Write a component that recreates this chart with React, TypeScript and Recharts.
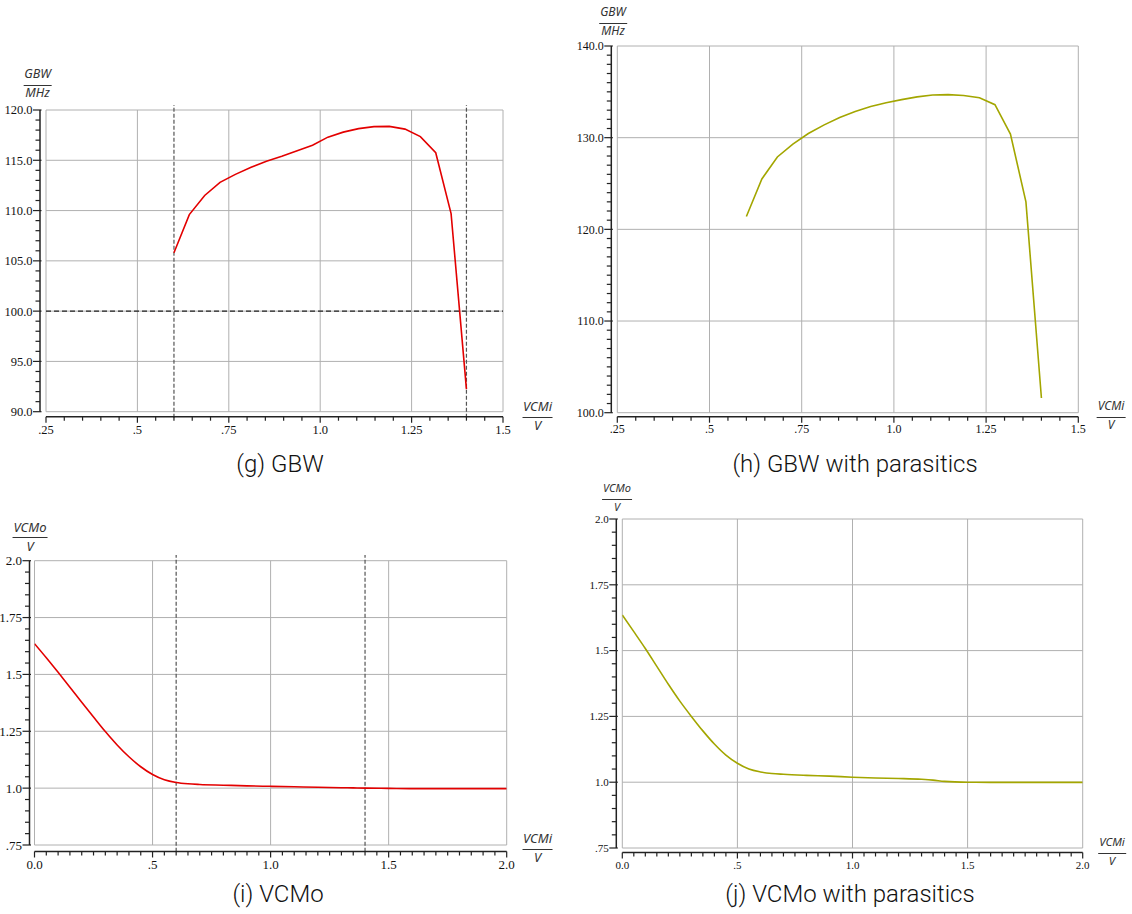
import React from 'react';
import { LineChart, Line, XAxis, YAxis, CartesianGrid, ReferenceLine } from 'recharts';

// ---------- data ----------
const gbwVcmi = [0.6, 0.642, 0.684, 0.726, 0.768, 0.811, 0.853, 0.895, 0.937, 0.979, 1.021, 1.063, 1.105, 1.147, 1.189, 1.232, 1.274, 1.316, 1.358, 1.4];
const gbwNominal = [105.8, 109.6, 111.5, 112.8, 113.6, 114.3, 114.9, 115.4, 115.95, 116.5, 117.3, 117.8, 118.15, 118.35, 118.37, 118.1, 117.35, 115.75, 109.7, 92.25];
const gbwParasitic = [121.4, 125.5, 127.9, 129.3, 130.45, 131.4, 132.2, 132.85, 133.4, 133.8, 134.15, 134.45, 134.65, 134.7, 134.6, 134.35, 133.6, 130.4, 123.0, 101.6];

const vcmoVcmi = [0, 0.05, 0.1, 0.15, 0.2, 0.25, 0.3, 0.35, 0.4, 0.45, 0.5, 0.55, 0.6, 0.65, 0.7, 0.8, 0.9, 1.0, 1.1, 1.2, 1.3, 1.35, 1.4, 1.5, 1.6, 1.8, 2.0];
const vcmoNominal = [1.635, 1.573, 1.509, 1.444, 1.378, 1.313, 1.249, 1.19, 1.138, 1.094, 1.06, 1.037, 1.025, 1.019, 1.016, 1.013, 1.01, 1.008, 1.006, 1.004, 1.002, 1.001, 1.0, 0.999, 0.998, 0.998, 0.998];
const vcmoParasitic = [1.635, 1.572, 1.508, 1.44, 1.372, 1.308, 1.25, 1.195, 1.145, 1.103, 1.072, 1.05, 1.039, 1.033, 1.03, 1.026, 1.023, 1.019, 1.016, 1.014, 1.011, 1.008, 1.003, 1.0, 0.9995, 0.9995, 0.9995];

// ---------- ticks ----------
const gbwXTickValues = [0.25, 0.5, 0.75, 1.0, 1.25, 1.5];
const gbwXTickLabels = ['.25', '.5', '.75', '1.0', '1.25', '1.5'];
const gbwYTickValuesG = [90, 95, 100, 105, 110, 115, 120];
const gbwYTickLabelsG = ['90.0', '95.0', '100.0', '105.0', '110.0', '115.0', '120.0'];
const gbwYTickValuesH = [100, 110, 120, 130, 140];
const gbwYTickLabelsH = ['100.0', '110.0', '120.0', '130.0', '140.0'];
const vcmoXTickValues = [0, 0.5, 1.0, 1.5, 2.0];
const vcmoXTickLabels = ['0.0', '.5', '1.0', '1.5', '2.0'];
const vcmoYTickValues = [0.75, 1.0, 1.25, 1.5, 1.75, 2.0];
const vcmoYTickLabels = ['.75', '1.0', '1.25', '1.5', '1.75', '2.0'];

const limitMarkers = [0.6, 1.4];
const gbwSpec = 100;
const captions = ['(g) GBW', '(h) GBW with parasitics', '(i) VCMo', '(j) VCMo with parasitics'];

const RED = '#e30000';
const OLIVE = '#a3a600';
const TICK_FONT = '"Liberation Serif", "DejaVu Serif", serif';
const UNIT_FONT = '"Noto Sans", "DejaVu Sans", sans-serif';

const range = (a: number, b: number, step: number) => {
  const n = Math.round((b - a) / step);
  return Array.from({ length: n + 1 }, (_, i) => +(a + i * step).toFixed(5));
};

const findIdx = (arr: number[], v: number) => arr.findIndex((m) => Math.abs(m - v) < 1e-6);

const XTick = (p: any) => {
  const { x, y, payload, majors, labels, off, fs } = p;
  const idx = findIdx(majors, payload.value);
  const major = idx >= 0;
  const ay = y + off;
  return (
    <g>
      <line x1={x} x2={x} y1={ay} y2={ay + (major ? 6 : 4)} stroke="#222" strokeWidth={1.2} />
      {major && (
        <text x={x} y={ay + 12.5} dy="0.35em" textAnchor="middle" fontFamily={TICK_FONT} fontSize={fs} fill="#111">
          {labels[idx]}
        </text>
      )}
    </g>
  );
};

const YTick = (p: any) => {
  const { x, y, payload, majors, labels, off, fs } = p;
  const idx = findIdx(majors, payload.value);
  const major = idx >= 0;
  const ax = x - off;
  return (
    <g>
      <line x1={ax - (major ? 7 : 4.5)} x2={ax + (major ? 1.5 : 0)} y1={y} y2={y} stroke="#222" strokeWidth={1.2} />
      {major && (
        <text x={ax - 7.5} y={y} dy="0.35em" textAnchor="end" fontFamily={TICK_FONT} fontSize={fs} fill="#111">
          {labels[idx]}
        </text>
      )}
    </g>
  );
};

type PanelProps = {
  left: number; top: number; width: number; height: number;
  margin: { top: number; right: number; bottom: number; left: number };
  yAxisWidth: number; xAxisHeight: number;
  xs: number[]; ys: number[]; color: string; curve: 'linear' | 'monotone';
  xDomain: [number, number]; yDomain: [number, number];
  xMajor: number[]; xLabels: string[]; xStep: number;
  yMajor: number[]; yLabels: string[]; yStep: number;
  xOff: number; yOff: number; fs: number;
  extras?: React.ReactNode;
};

const Panel = (pp: PanelProps) => {
  const rows = pp.xs.map((x, i) => ({ x, y: pp.ys[i] }));
  const xTicks = range(pp.xDomain[0], pp.xDomain[1], pp.xStep);
  const yTicks = range(pp.yDomain[0], pp.yDomain[1], pp.yStep);
  return (
    <div style={{ position: 'absolute', left: pp.left, top: pp.top }}>
      <LineChart width={pp.width} height={pp.height} data={rows} margin={pp.margin}>
        <CartesianGrid
          stroke="#b0b0b0"
          strokeWidth={1}
          horizontalValues={pp.yMajor}
          verticalValues={pp.xMajor}
        />
        <XAxis
          dataKey="x"
          type="number"
          domain={pp.xDomain}
          ticks={xTicks}
          interval={0}
          height={pp.xAxisHeight}
          tickLine={false}
          tickSize={0}
          tickMargin={0}
          axisLine={{ stroke: '#222', strokeWidth: 1.5, transform: `translate(0,${pp.xOff})` } as any}
          tick={(p: any) => <XTick {...p} majors={pp.xMajor} labels={pp.xLabels} off={pp.xOff} fs={pp.fs} />}
          allowDataOverflow
        />
        <YAxis
          type="number"
          domain={pp.yDomain}
          ticks={yTicks}
          interval={0}
          width={pp.yAxisWidth}
          tickLine={false}
          tickSize={0}
          tickMargin={0}
          axisLine={{ stroke: '#222', strokeWidth: 1.5, transform: `translate(${-pp.yOff},0)` } as any}
          tick={(p: any) => <YTick {...p} majors={pp.yMajor} labels={pp.yLabels} off={pp.yOff} fs={pp.fs} />}
          allowDataOverflow
        />
        {pp.extras}
        <Line
          dataKey="y"
          type={pp.curve}
          stroke={pp.color}
          strokeWidth={1.6}
          dot={false}
          activeDot={false}
          isAnimationActive={false}
        />
      </LineChart>
    </div>
  );
};

const Frac = ({ x, lineY, num, den, size }: { x: number; lineY: number; num: string; den: string; size: number }) => (
  <div
    style={{
      position: 'absolute',
      left: x,
      top: lineY - 18,
      transform: 'translateX(-50%)',
      display: 'flex',
      flexDirection: 'column',
      alignItems: 'stretch',
      fontFamily: UNIT_FONT,
      fontStyle: 'italic',
      fontSize: size,
      color: '#333',
      textAlign: 'center',
      whiteSpace: 'nowrap',
    }}
  >
    <div style={{ lineHeight: '14px', height: 14, paddingLeft: 1, paddingRight: 1 }}>{num}</div>
    <div style={{ height: 1, background: '#333', marginTop: 3.5 }} />
    <div style={{ lineHeight: '14px', height: 14, marginTop: 0.5 }}>{den}</div>
  </div>
);

const Caption = ({ cx, top, text }: { cx: number; top: number; text: string }) => (
  <div
    style={{
      position: 'absolute',
      left: cx,
      top,
      transform: 'translateX(-50%)',
      fontFamily: 'Roboto, "Noto Sans", sans-serif',
      fontWeight: 300,
      fontSize: 24,
      lineHeight: '24px',
      color: '#111',
      whiteSpace: 'nowrap',
    }}
  >
    {text}
  </div>
);

const vMarkers = (yLo: number, yHi: number) =>
  limitMarkers.map((m) => (
    <ReferenceLine
      key={`m${m}`}
      segment={[{ x: m, y: yLo }, { x: m, y: yHi }]}
      ifOverflow="visible"
      stroke="#555"
      strokeWidth={1.2}
      strokeDasharray="4 2"
    />
  ));

export default function App() {
  return (
    <div style={{ position: 'absolute', left: 0, top: 0, width: 1132, height: 914, background: '#fff' }}>
      {/* (g) */}
      <Panel
        left={0} top={0} width={566} height={480}
        margin={{ top: 110, right: 63, bottom: 28.3, left: 0 }}
        yAxisWidth={46} xAxisHeight={40}
        xs={gbwVcmi} ys={gbwNominal} color={RED} curve="linear"
        xDomain={[0.25, 1.5]} yDomain={[90, 120]}
        xMajor={gbwXTickValues} xLabels={gbwXTickLabels} xStep={0.05}
        yMajor={gbwYTickValuesG} yLabels={gbwYTickLabelsG} yStep={1}
        xOff={5} yOff={6} fs={12.5}
        extras={
          <>
            <ReferenceLine y={gbwSpec} stroke="#222" strokeWidth={1.2} strokeDasharray="5 3" />
            {vMarkers(89.4, 120.5)}
          </>
        }
      />
      {/* (h) */}
      <Panel
        left={566} top={0} width={566} height={480}
        margin={{ top: 46, right: 53.7, bottom: 27.3, left: 5.3 }}
        yAxisWidth={46} xAxisHeight={40}
        xs={gbwVcmi} ys={gbwParasitic} color={OLIVE} curve="linear"
        xDomain={[0.25, 1.5]} yDomain={[100, 140]}
        xMajor={gbwXTickValues} xLabels={gbwXTickLabels} xStep={0.05}
        yMajor={gbwYTickValuesH} yLabels={gbwYTickLabelsH} yStep={1}
        xOff={4} yOff={6} fs={12}
      />
      {/* (i) */}
      <Panel
        left={0} top={480} width={566} height={434}
        margin={{ top: 80.7, right: 59.3, bottom: 29, left: 0 }}
        yAxisWidth={34.5} xAxisHeight={40}
        xs={vcmoVcmi} ys={vcmoNominal} color={RED} curve="monotone"
        xDomain={[0, 2]} yDomain={[0.75, 2]}
        xMajor={vcmoXTickValues} xLabels={vcmoXTickLabels} xStep={0.05}
        yMajor={vcmoYTickValues} yLabels={vcmoYTickLabels} yStep={0.05}
        xOff={6.5} yOff={5} fs={13}
        extras={<>{vMarkers(0.72, 2.025)}</>}
      />
      {/* (j) */}
      <Panel
        left={566} top={480} width={566} height={434}
        margin={{ top: 39, right: 49.3, bottom: 26, left: 10.3 }}
        yAxisWidth={46} xAxisHeight={40}
        xs={vcmoVcmi} ys={vcmoParasitic} color={OLIVE} curve="monotone"
        xDomain={[0, 2]} yDomain={[0.75, 2]}
        xMajor={vcmoXTickValues} xLabels={vcmoXTickLabels} xStep={0.05}
        yMajor={vcmoYTickValues} yLabels={vcmoYTickLabels} yStep={0.05}
        xOff={4.5} yOff={6} fs={11}
      />

      <Frac x={37.5} lineY={85} num="GBW" den="MHz" size={12.5} />
      <Frac x={537.5} lineY={417} num="VCMi" den="V" size={13} />
      <Frac x={613} lineY={23} num="GBW" den="MHz" size={12} />
      <Frac x={1111} lineY={417} num="VCMi" den="V" size={12} />
      <Frac x={30} lineY={537.7} num="VCMo" den="V" size={13} />
      <Frac x={537.5} lineY={849} num="VCMi" den="V" size={13} />
      <Frac x={617} lineY={499.3} num="VCMo" den="V" size={11} />
      <Frac x={1112} lineY={853.3} num="VCMi" den="V" size={11.5} />

      <Caption cx={280} top={452} text={captions[0]} />
      <Caption cx={855} top={452} text={captions[1]} />
      <Caption cx={278} top={882} text={captions[2]} />
      <Caption cx={850} top={882} text={captions[3]} />
    </div>
  );
}
